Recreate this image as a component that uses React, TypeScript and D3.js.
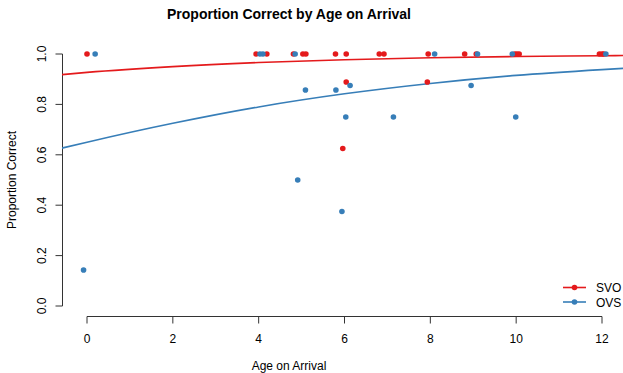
import * as d3 from "d3";
import { useEffect, useRef } from "react";

// SVO points (age on arrival, proportion correct)
const svoAge = [0.0, 3.94, 4.19, 4.81, 5.03, 5.1, 5.79, 6.04, 6.04, 5.96, 6.81, 6.92, 7.95, 7.93, 8.8, 9.07, 9.97, 10.02, 10.07, 11.94, 12.0, 12.04];
const svoProp = [1, 1, 1, 1, 1, 1, 1, 1, 0.889, 0.625, 1, 1, 1, 0.889, 1, 1, 1, 1, 1, 1, 1, 1];

// OVS points
const ovsAge = [-0.08, 0.19, 4.03, 4.1, 4.85, 4.91, 5.09, 5.8, 5.94, 6.03, 6.13, 7.14, 8.1, 8.95, 9.1, 9.91, 9.99, 12.09];
const ovsProp = [0.143, 1, 1, 1, 1, 0.5, 0.857, 0.857, 0.375, 0.75, 0.875, 0.75, 1, 0.875, 1, 1, 0.75, 1];

// fitted curves
const curveAge = [-0.6, 0, 2, 4, 6, 8, 10, 12, 12.6];
const svoFit = [0.918, 0.927, 0.95, 0.966, 0.977, 0.985, 0.99, 0.993, 0.994];
const ovsFit = [0.626, 0.65, 0.725, 0.79, 0.842, 0.883, 0.915, 0.938, 0.944];

const xTicks = [0, 2, 4, 6, 8, 10, 12];
const yTicks = [0, 0.2, 0.4, 0.6, 0.8, 1.0];

const RED = "#E41A1C";
const BLUE = "#377EB8";

const W = 623, H = 373;

const App = () => {
  const ref = useRef<SVGSVGElement>(null);

  useEffect(() => {
    const svg = d3.select(ref.current);
    svg.selectAll("*").remove();
    const font = "'Liberation Sans', Arial, sans-serif";

    const x = d3.scaleLinear().domain([0, 12]).range([87, 602]);
    const y = d3.scaleLinear().domain([0, 1]).range([306, 54]);

    svg.append("defs").append("clipPath").attr("id", "plot")
      .append("rect").attr("x", 62).attr("y", 40).attr("width", W - 62).attr("height", 280);

    // title
    svg.append("text")
      .attr("x", 289).attr("y", 19)
      .attr("text-anchor", "middle")
      .style("font", `bold 14px ${font}`)
      .text("Proportion Correct by Age on Arrival");

    // x axis
    const gx = svg.append("g").attr("transform", "translate(0,316.5)");
    gx.append("line").attr("x1", x(0)).attr("x2", x(12)).attr("stroke", "#333");
    xTicks.forEach((t) => {
      gx.append("line").attr("x1", x(t)).attr("x2", x(t)).attr("y1", 0).attr("y2", 7).attr("stroke", "#333");
      gx.append("text").attr("x", x(t)).attr("y", 26).attr("text-anchor", "middle")
        .style("font", `12px ${font}`).text(t);
    });
    svg.append("text").attr("x", 289).attr("y", 369.5).attr("text-anchor", "middle")
      .style("font", `12px ${font}`).text("Age on Arrival");

    // y axis
    const gy = svg.append("g").attr("transform", "translate(62.5,0)");
    gy.append("line").attr("y1", y(0)).attr("y2", y(1)).attr("stroke", "#333");
    yTicks.forEach((t) => {
      gy.append("line").attr("y1", y(t)).attr("y2", y(t)).attr("x1", 0).attr("x2", -7).attr("stroke", "#333");
      gy.append("text")
        .attr("transform", `translate(-17,${y(t)}) rotate(-90)`)
        .attr("text-anchor", "middle")
        .style("font", `12px ${font}`).text(t.toFixed(1));
    });
    svg.append("text")
      .attr("transform", `translate(16,180) rotate(-90)`)
      .attr("text-anchor", "middle")
      .style("font", `12px ${font}`).text("Proportion Correct");

    // fitted curves
    const line = d3.line<number>()
      .x((d, i) => x(curveAge[i]))
      .y((d) => y(d))
      .curve(d3.curveMonotoneX);
    const curves = svg.append("g").attr("clip-path", "url(#plot)");
    curves.append("path").attr("d", line(svoFit)).attr("fill", "none").attr("stroke", RED).attr("stroke-width", 1.6);
    curves.append("path").attr("d", line(ovsFit)).attr("fill", "none").attr("stroke", BLUE).attr("stroke-width", 1.6);

    // points
    svg.selectAll(".svo").data(svoAge).join("circle")
      .attr("cx", (d) => x(d)).attr("cy", (d, i) => y(svoProp[i])).attr("r", 2.8).attr("fill", RED);
    svg.selectAll(".ovs").data(ovsAge).join("circle")
      .attr("cx", (d) => x(d)).attr("cy", (d, i) => y(ovsProp[i])).attr("r", 2.8).attr("fill", BLUE);

    // legend
    const legend = [{ name: "SVO", color: RED }, { name: "OVS", color: BLUE }];
    legend.forEach((l, i) => {
      const ly = 287.5 + i * 14.5;
      svg.append("line").attr("x1", 563).attr("x2", 586).attr("y1", ly).attr("y2", ly)
        .attr("stroke", l.color).attr("stroke-width", 1.6);
      svg.append("circle").attr("cx", 574.5).attr("cy", ly).attr("r", 2.8).attr("fill", l.color);
      svg.append("text").attr("x", 596).attr("y", ly + 4.5)
        .style("font", `12px ${font}`).text(l.name);
    });
  }, []);

  return <svg ref={ref} width={W} height={H} style={{ position: "absolute", left: 0, top: 0 }} />;
};

export default App;
